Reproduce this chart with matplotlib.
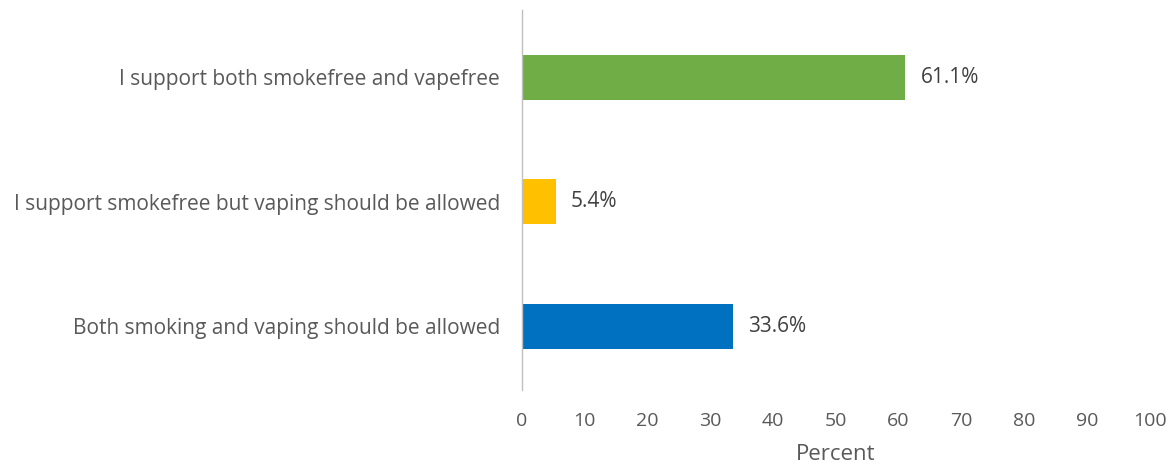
import matplotlib
matplotlib.use('Agg')
import matplotlib.pyplot as plt

# Data
categories = ['Both smoking and vaping should be allowed',
              'I support smokefree but vaping should be allowed',
              'I support both smokefree and vapefree']
values = [33.6, 5.4, 61.1]
colors = ['#0070C0', '#FFC000', '#70AD47']
xticks = [0, 10, 20, 30, 40, 50, 60, 70, 80, 90, 100]

plt.rcParams['font.family'] = ['Open Sans', 'DejaVu Sans']
txt = '#595959'

fig = plt.figure(figsize=(11.73, 4.68), dpi=100)
ax = fig.add_axes([0.445, 0.167, 0.535, 0.812])

y = range(len(categories))
ax.barh(y, values, height=0.36, color=colors)
for yi, v in zip(y, values):
    ax.text(v + 2.4, yi, f'{v:.1f}%', va='center', ha='left', fontsize=15, color='#404040')

ax.set_xlim(0, 100)
ax.set_ylim(-0.51, 2.54)
ax.set_xticks(xticks)
ax.set_xticklabels([str(t) for t in xticks])
ax.set_yticks(list(y))
ax.set_yticklabels(categories)
ax.tick_params(axis='x', length=0, labelsize=14, colors=txt, pad=16)
ax.tick_params(axis='y', length=0, labelsize=15, colors=txt, pad=16)
ax.set_xlabel('Percent', fontsize=16, color=txt, labelpad=10)

for s in ['top', 'right', 'bottom']:
    ax.spines[s].set_visible(False)
ax.spines['left'].set_color('#BFBFBF')
ax.spines['left'].set_linewidth(1)

fig.savefig('out.png', dpi=100)
